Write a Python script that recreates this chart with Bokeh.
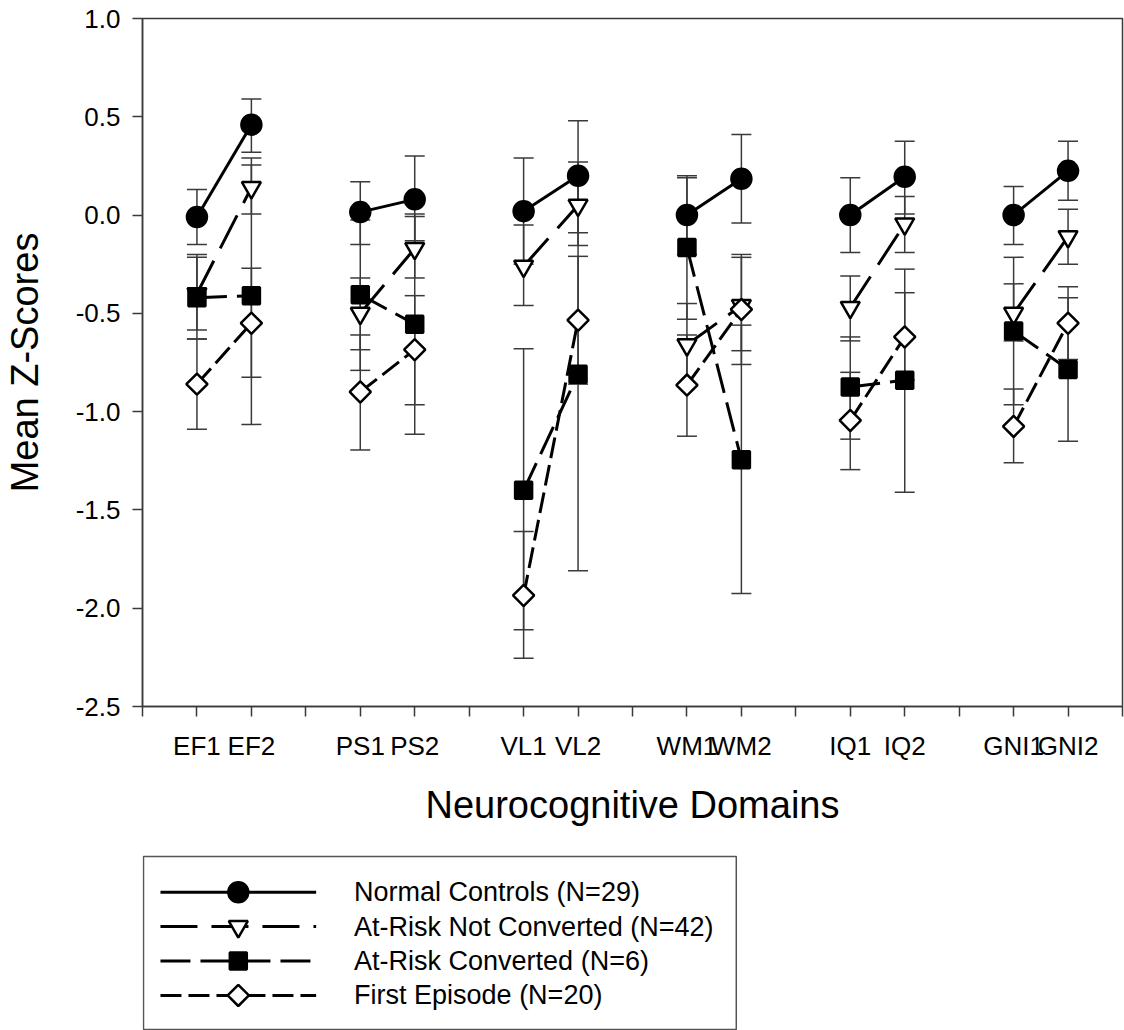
import math
from bokeh.plotting import figure
from bokeh.layouts import column
from bokeh.models import Range1d, FixedTicker, Whisker, ColumnDataSource, TeeHead
from bokeh.core.properties import value
from bokeh.embed import file_html
from bokeh.resources import INLINE

# ---------------- data ----------------
labels = ["EF1", "EF2", "PS1", "PS2", "VL1", "VL2", "WM1", "WM2", "IQ1", "IQ2", "GNI1", "GNI2"]

nc_name = "Normal Controls (N=29)"
nc_mean = [-0.01, 0.46, 0.015, 0.08, 0.02, 0.20, 0.00, 0.185, 0.00, 0.195, 0.00, 0.225]
nc_upper = [0.13, 0.59, 0.17, 0.30, 0.29, 0.48, 0.19, 0.41, 0.19, 0.375, 0.145, 0.375]
nc_lower = [-0.15, 0.32, -0.15, -0.13, -0.25, -0.09, -0.20, -0.04, -0.19, 0.005, -0.15, 0.075]

arnc_name = "At-Risk Not Converted (N=42)"
arnc_mean = [-0.40, 0.14, -0.50, -0.17, -0.26, 0.05, -0.66, -0.46, -0.47, -0.045, -0.50, -0.11]
arnc_upper = [-0.20, 0.29, -0.32, -0.007, -0.05, 0.27, -0.45, -0.215, -0.31, 0.095, -0.35, 0.03]
arnc_lower = [-0.585, 0.006, -0.685, -0.32, -0.46, -0.155, -0.865, -0.69, -0.64, -0.19, -0.64, -0.25]

arc_name = "At-Risk Converted (N=6)"
arc_mean = [-0.42, -0.41, -0.405, -0.555, -1.40, -0.81, -0.165, -1.245, -0.875, -0.84, -0.59, -0.785]
arc_upper = [-0.215, 0.255, -0.025, 0.006, -0.68, 0.19, 0.20, -0.56, -0.62, -0.275, -0.215, -0.42]
arc_lower = [-0.63, -1.065, -0.79, -1.115, -2.11, -1.81, -0.53, -1.925, -1.14, -1.41, -0.965, -1.15]

fe_name = "First Episode (N=20)"
fe_mean = [-0.86, -0.55, -0.90, -0.685, -1.935, -0.535, -0.865, -0.48, -1.045, -0.62, -1.075, -0.55]
fe_upper = [-0.63, -0.27, -0.61, -0.41, -1.61, -0.21, -0.61, -0.20, -0.80, -0.395, -0.885, -0.365]
fe_lower = [-1.09, -0.825, -1.195, -0.965, -2.255, -0.86, -1.125, -0.76, -1.295, -0.84, -1.26, -0.735]

y_ticks = [-2.5, -2.0, -1.5, -1.0, -0.5, 0.0, 0.5, 1.0]

# positions: pairs of conditions, one empty slot between groups
x = [3 * (i // 2) + 1 + (i % 2) for i in range(len(labels))]
n_slots = 3 * (len(labels) // 2)

FONT = "Liberation Sans"
AX = "#3a3a3a"
W = 1124
MAIN_H = 848
LEG_H = 182
BL, BR = 140, 2   # left / right borders (frame from x=140 to x=1122)

p = figure(width=W, height=MAIN_H, output_backend="svg", toolbar_location=None,
           x_range=Range1d(0, n_slots), y_range=Range1d(-2.5, 1.0),
           min_border_left=BL, min_border_right=BR, min_border_top=18, min_border_bottom=142)
p.background_fill_color = "white"
p.border_fill_color = "white"
p.outline_line_color = AX
p.outline_line_width = 1.5
p.xgrid.visible = False
p.ygrid.visible = False

# axes
p.xaxis.ticker = FixedTicker(ticks=list(range(n_slots + 1)))
overrides = {k: "" for k in range(n_slots + 1)}
for xi, lab in zip(x, labels):
    overrides[xi] = lab
p.xaxis.major_label_overrides = overrides
p.yaxis.ticker = FixedTicker(ticks=y_ticks)
p.yaxis.major_label_overrides = {t: f"{t:.1f}" for t in y_ticks}

for ax in (p.xaxis, p.yaxis):
    ax.axis_line_color = AX
    ax.axis_line_width = 1.5
    ax.major_tick_line_color = AX
    ax.major_tick_line_width = 1.5
    ax.major_tick_out = 10
    ax.major_tick_in = 0
    ax.minor_tick_line_color = None
    ax.major_label_text_font = FONT
    ax.major_label_text_font_size = "26px"
    ax.major_label_text_color = "black"
    ax.axis_label_text_font = FONT
    ax.axis_label_text_font_size = "38px"
    ax.axis_label_text_font_style = "normal"
    ax.axis_label_text_color = "black"

p.xaxis.axis_label = "Neurocognitive Domains"
p.yaxis.axis_label = "Mean Z-Scores"
p.xaxis.major_label_standoff = 14
p.xaxis.axis_label_standoff = 20
p.yaxis.major_label_standoff = 12
p.yaxis.axis_label_standoff = 27

series = [
    (nc_name, nc_mean, nc_upper, nc_lower, dict(marker="circle", size=20, fill_color="black", angle=0.0), "solid"),
    (arnc_name, arnc_mean, arnc_upper, arnc_lower, dict(marker="inverted_triangle", size=19, fill_color="white", angle=0.0), "37 14"),
    (arc_name, arc_mean, arc_upper, arc_lower, dict(marker="square", size=17, fill_color="black", angle=0.0), "30 10"),
    (fe_name, fe_mean, fe_upper, fe_lower, dict(marker="square", size=15, fill_color="white", angle=math.pi / 4), "21 7"),
]

# error bars first
for name, mean, up, lo, mk, dash in series:
    src = ColumnDataSource(dict(x=x, upper=up, lower=lo))
    w = Whisker(source=src, base="x", upper="upper", lower="lower",
                line_color=AX, line_width=1.5, level="underlay",
                upper_head=TeeHead(size=20, line_color=AX, line_width=1.5),
                lower_head=TeeHead(size=20, line_color=AX, line_width=1.5))
    p.add_layout(w)

for name, mean, up, lo, mk, dash in series:
    xs = [[x[i], x[i + 1]] for i in range(0, len(x), 2)]
    ys = [[mean[i], mean[i + 1]] for i in range(0, len(x), 2)]
    p.multi_line(xs, ys, line_color="black", line_width=3, line_dash=dash)

for name, mean, up, lo, mk, dash in series:
    src = ColumnDataSource(dict(x=x, y=mean))
    p.scatter("x", "y", source=src, marker=mk["marker"], size=mk["size"],
              angle=mk["angle"], fill_color=mk["fill_color"],
              line_color="black", line_width=2.5)

# ---------------- legend panel (key drawn in page-pixel space) ----------------
q = figure(width=W, height=LEG_H, output_backend="svg", toolbar_location=None,
           x_range=Range1d(BL, W - BR), y_range=Range1d(LEG_H, 0),
           min_border_left=BL, min_border_right=BR, min_border_top=0, min_border_bottom=0,
           x_axis_type=None, y_axis_type=None)
q.outline_line_color = None
q.background_fill_color = "white"
q.border_fill_color = "white"
q.xgrid.visible = False
q.ygrid.visible = False

box_l, box_r, box_t, box_b = 141, 735, 8, 181
q.quad(left=[box_l], right=[box_r], top=[box_t], bottom=[box_b],
       fill_color="white", line_color="#555555", line_width=1.5)

key_x0, key_x1, text_x = 158, 314, 352
row0, pitch = 43.7, 34.4
for i, (name, mean, up, lo, mk, dash) in enumerate(series):
    yy = row0 + pitch * i
    q.line([key_x0, key_x1], [yy, yy], line_color="black", line_width=3, line_dash=dash)
    q.scatter([(key_x0 + key_x1) / 2], [yy], marker=mk["marker"], size=mk["size"],
              angle=mk["angle"], fill_color=mk["fill_color"], line_color="black", line_width=2.5)
    q.text([text_x], [yy], text=[name], text_font=value(FONT), text_font_size="27px",
           text_baseline="middle", text_align="left", text_color="black")

layout = column(p, q, spacing=0)
open("out.html", "w").write(file_html(layout, INLINE))
